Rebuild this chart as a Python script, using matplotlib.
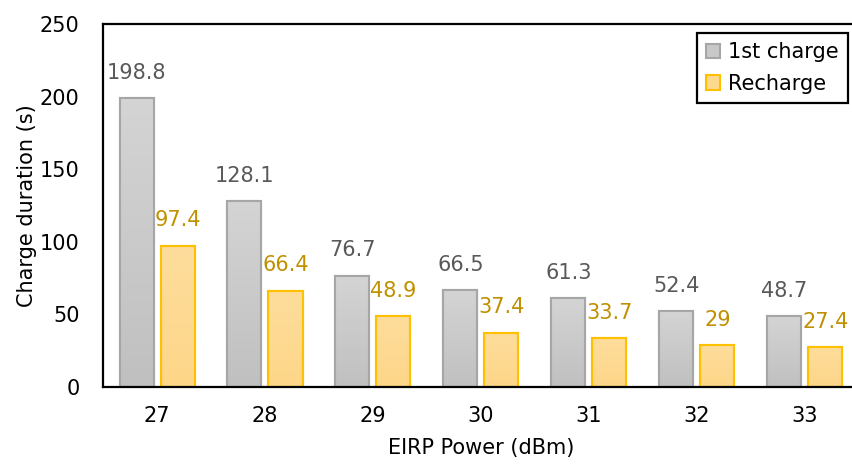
import numpy as np
from matplotlib import pyplot as plt
from matplotlib.patches import Rectangle
from matplotlib.colors import to_rgb

powers = ["27", "28", "29", "30", "31", "32", "33"]
first_charge = [198.8, 128.1, 76.7, 66.5, 61.3, 52.4, 48.7]
recharge = [97.4, 66.4, 48.9, 37.4, 33.7, 29, 27.4]

plt.rcParams['font.family'] = ['DejaVu Sans']
plt.rcParams['font.size'] = 15

fig = plt.figure(figsize=(8.53, 4.65), dpi=100)
ax = fig.add_axes([0.1208, 0.1677, 0.886, 0.7806])

x = np.arange(len(powers))
w = 0.315
off = 0.19

b1 = ax.bar(x - off, first_charge, w, color='#c8c8c8', edgecolor='#a6a6a6',
            linewidth=1.5, label='1st charge', zorder=2)
b2 = ax.bar(x + off, recharge, w, color='#fdd88f', edgecolor='#ffc000',
            linewidth=1.5, label='Recharge', zorder=2)

# vertical gradient fill inside each bar
def shade(bars, top, bottom):
    top = np.array(to_rgb(top))
    bottom = np.array(to_rgb(bottom))
    t = np.linspace(0, 1, 64)[:, None]
    grad = (top * (1 - t) + bottom * t)[:, None, :]
    for b in bars:
        x0, y0 = b.get_x(), b.get_y()
        bw, bh = b.get_width(), b.get_height()
        im = ax.imshow(grad, extent=(x0, x0 + bw, y0, y0 + bh), origin='upper',
                       aspect='auto', zorder=2.1)
        im.set_clip_path(Rectangle((x0, y0), bw, bh, transform=ax.transData))
        ax.add_patch(Rectangle((x0, y0), bw, bh, fill=False,
                               edgecolor=b.get_edgecolor(), linewidth=1.5,
                               zorder=2.2))

shade(b1, '#d4d4d4', '#c0c0c0')
shade(b2, '#fedd9c', '#fdd688')

for b, v in zip(b1, first_charge):
    ax.annotate(f"{v:g}", (b.get_x() + b.get_width() / 2, v), xytext=(0, 11),
                textcoords='offset points', ha='center', va='bottom',
                color='#595959')
for b, v in zip(b2, recharge):
    ax.annotate(f"{v:g}", (b.get_x() + b.get_width() / 2, v), xytext=(0, 11),
                textcoords='offset points', ha='center', va='bottom',
                color='#bf9000')

ax.set_xlim(-0.5, 6.5)
ax.set_ylim(0, 250)
ax.set_yticks([0, 50, 100, 150, 200, 250])
ax.set_xticks(x)
ax.set_xticklabels(powers)
ax.tick_params(length=0)
ax.tick_params(axis='x', pad=14)
ax.tick_params(axis='y', pad=17)
ax.spines['right'].set_visible(False)
for s in ['left', 'top', 'bottom']:
    ax.spines[s].set_linewidth(1.6)

ax.set_xlabel("EIRP Power (dBm)", labelpad=8)
ax.set_ylabel("Charge duration (s)", labelpad=2)

leg = ax.legend(loc='upper right', bbox_to_anchor=(0.9854, 0.975),
                borderaxespad=0, fancybox=False, edgecolor='black',
                framealpha=1, handlelength=0.7, handleheight=0.7,
                handletextpad=0.35, borderpad=0.45, labelspacing=0.55)
leg.get_frame().set_linewidth(1.6)

fig.savefig("out.png", dpi=100)
